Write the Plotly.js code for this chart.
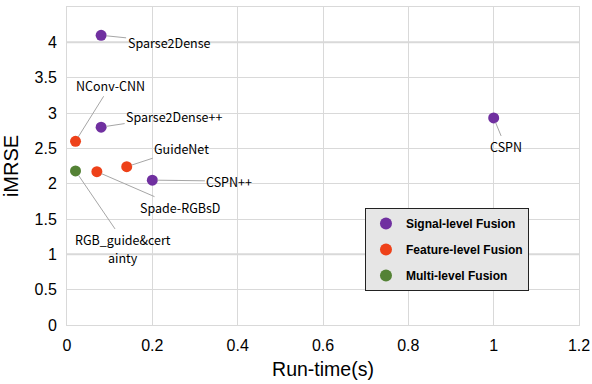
<!DOCTYPE html>
<html><head><meta charset="utf-8">
<script src="https://cdn.plot.ly/plotly-3.0.1.min.js"></script>
<style>html,body{margin:0;padding:0;background:#fff}</style>
</head><body><div id="chart" style="width:592px;height:384px"></div>
<script>
// Data
const signalNames = ["Sparse2Dense", "Sparse2Dense++", "CSPN++", "CSPN"];
const signalTime  = [0.08, 0.08, 0.2, 1.0];
const signalRMSE  = [4.1, 2.8, 2.05, 2.93];

const featureNames = ["NConv-CNN", "GuideNet", "Spade-RGBsD"];
const featureTime  = [0.02, 0.14, 0.07];
const featureRMSE  = [2.6, 2.24, 2.17];

const multiNames = ["RGB_guide&cert"];
const multiNames2 = ["ainty"];
const multiTime  = [0.02];
const multiRMSE  = [2.18];

const seriesNames = ["Signal-level Fusion", "Feature-level Fusion", "Multi-level Fusion"];
const colors = ["#7030A0", "#EE4119", "#548235"];

// label offsets (pixels) per point, style only
const signalOff  = [[68, 7], [73, -11], [77, 1], [12, 29]];
const featureOff = [[35, -56], [55, -18], [83, 36]];
const multiOff   = [[47, 69]];

function trace(x, y, name, color, grp) {
  return {x: x, y: y, name: name, type: "scatter", mode: "markers",
    legendgroup: grp,
    marker: {color: color, size: 11}, hoverinfo: "skip"};
}
const data = [
  trace(signalTime, signalRMSE, seriesNames[0], colors[0], "a"),
  trace(featureTime, featureRMSE, seriesNames[1], colors[1], "b"),
  trace(multiTime, multiRMSE, seriesNames[2], colors[2], "c")
];

const labelFont = {family: "Noto Sans CJK SC, Noto Sans, sans-serif", size: 12.5, color: "#000"};
const annotations = [];
function addLabels(names, xs, ys, offs) {
  names.forEach((n, i) => {
    annotations.push({x: xs[i], y: ys[i], xref: "x", yref: "y", text: n,
      showarrow: true, arrowhead: 0, arrowwidth: 1, arrowcolor: "#a6a6a6",
      ax: offs[i][0], ay: offs[i][1], standoff: 5, font: labelFont});
  });
}
addLabels(signalNames, signalTime, signalRMSE, signalOff);
addLabels(featureNames, featureTime, featureRMSE, featureOff);
addLabels(multiNames, multiTime, multiRMSE, multiOff);
annotations.push({x: multiTime[0], y: multiRMSE[0], xref: "x", yref: "y", text: multiNames2[0],
  showarrow: false, xshift: 47, yshift: -87, font: labelFont});

const layout = {
  width: 592, height: 384,
  margin: {l: 67, r: 13, t: 7, b: 59},
  paper_bgcolor: "#fff", plot_bgcolor: "#fff",
  font: {family: "Liberation Sans, Arial, sans-serif", color: "#000"},
  xaxis: {range: [0, 1.2], dtick: 0.2, tick0: 0, showgrid: true, gridcolor: "#d9d9d9", gridwidth: 1,
    zeroline: false, showline: true, linecolor: "#d9d9d9", mirror: true, ticks: "",
    ticklabelstandoff: 6,
    tickfont: {size: 16}, title: {text: "Run-time(s)", font: {size: 19.5}, standoff: 9}},
  yaxis: {range: [0, 4.5], dtick: 0.5, tick0: 0, showgrid: true, gridcolor: "#d9d9d9", gridwidth: 1,
    zeroline: false, showline: true, linecolor: "#d9d9d9", mirror: true, ticks: "",
    ticklabelstandoff: 6,
    tickfont: {size: 16}, title: {text: "iMRSE", font: {size: 20}, standoff: 10}},
  shapes: [
    {type: "line", xref: "paper", x0: 0, x1: 1, yref: "y", y0: 1, y1: 1, line: {color: "#d9d9d9", width: 2}, layer: "below"},
    {type: "line", xref: "paper", x0: 0, x1: 1, yref: "y", y0: 4, y1: 4, line: {color: "#d9d9d9", width: 2}, layer: "below"}
  ],
  legend: {x: 0.582, y: 0.368, xanchor: "left", yanchor: "top",
    bgcolor: "#e6e6e6", bordercolor: "#222", borderwidth: 1,
    font: {size: 12, family: "Liberation Sans, Arial, sans-serif", color: "#000", weight: "bold"},
    tracegroupgap: 7, itemsizing: "constant"},
  showlegend: true,
  annotations: annotations
};
Plotly.newPlot("chart", data, layout, {displayModeBar: false, staticPlot: true});
</script></body></html>
